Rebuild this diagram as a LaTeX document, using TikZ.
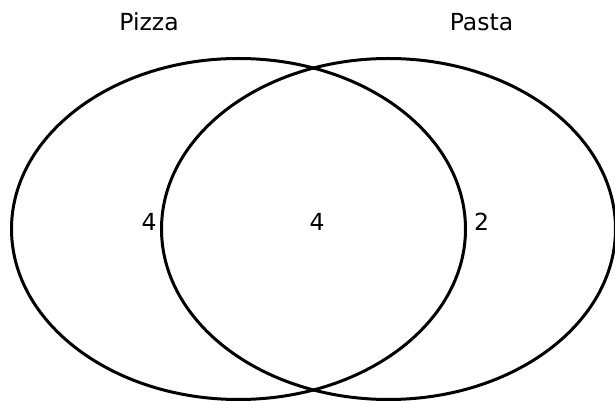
\documentclass[tikz,border=0pt]{standalone}
\usepackage{fontspec}
\setmainfont{DejaVu Sans}
\usetikzlibrary{shapes.geometric}
\tikzset{
  setshape/.style={draw=black, ellipse, line width=3pt, inner sep=0pt,
    minimum width=454pt, minimum height=341pt},
  lbl/.style={anchor=center, inner sep=0pt, font=\fontsize{23.5}{28}\selectfont}
}
\begin{document}
\begin{tikzpicture}[x=1pt, y=1pt]
\useasboundingbox (0, 0) rectangle (615, 401);
\node[setshape] (pizza) at (238.5, 172) {};
\node[setshape] (pasta) at (388.5, 172) {};
\node[lbl] (pizzaname) at (149, 379) {Pizza};
\node[lbl] (pastaname) at (481.5, 379) {Pasta};
\node[lbl] (onlypizza) at (149, 179) {4};
\node[lbl] (both) at (317, 179) {4};
\node[lbl] (onlypasta) at (481.5, 179) {2};
\end{tikzpicture}
\end{document}
